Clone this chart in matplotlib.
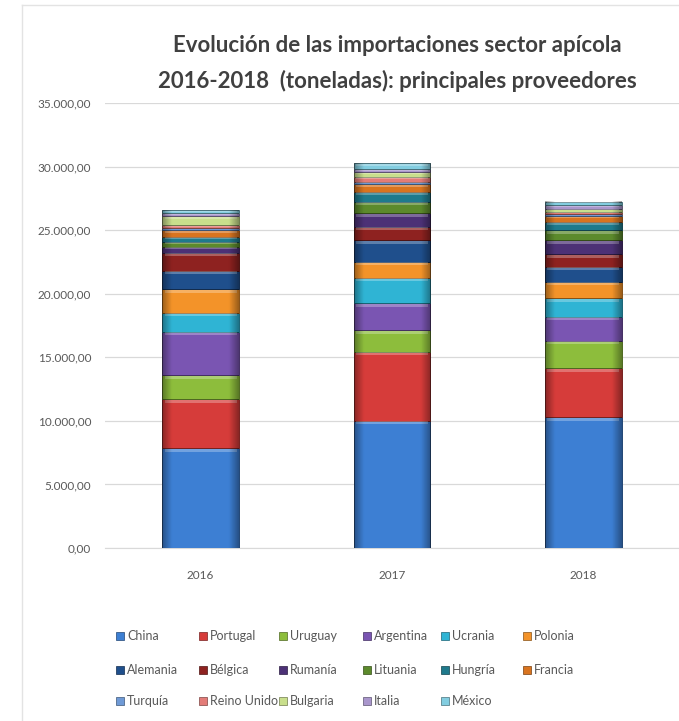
import numpy as np
import matplotlib
matplotlib.use("Agg")
import matplotlib.pyplot as plt
from matplotlib.colors import to_rgb
from matplotlib.patches import Rectangle
from matplotlib.lines import Line2D

plt.rcParams['font.family'] = ['Lato', 'DejaVu Sans']

years = ["2016", "2017", "2018"]
paises = ["China", "Portugal", "Uruguay", "Argentina", "Ucrania", "Polonia",
          "Alemania", "Bélgica", "Rumanía", "Lituania", "Hungría", "Francia",
          "Turquía", "Reino Unido", "Bulgaria", "Italia", "México"]

# toneladas por proveedor y año
china = [7840, 10030, 10280]
portugal = [3860, 5410, 3860]
uruguay = [1910, 1710, 2170]
argentina = [3410, 2100, 1890]
ucrania = [1490, 2020, 1450]
polonia = [1840, 1260, 1300]
alemania = [1470, 1700, 1180]
belgica = [1410, 1050, 1000]
rumania = [480, 1050, 1100]
lituania = [390, 920, 790]
hungria = [390, 780, 650]
francia = [530, 600, 450]
turquia = [150, 200, 150]
reino_unido = [240, 390, 190]
bulgaria = [710, 380, 250]
italia = [210, 200, 280]
mexico = [250, 480, 260]

series = [china, portugal, uruguay, argentina, ucrania, polonia, alemania, belgica,
          rumania, lituania, hungria, francia, turquia, reino_unido, bulgaria,
          italia, mexico]

colores = ['#3d7fd3', '#d63c3a', '#8dbd3c', '#7a55b2', '#2fb4d4', '#f39329',
           '#1f4f8c', '#8e2220', '#4c3176', '#5c8a2c', '#1f7a8c', '#d9741f',
           '#6f9ad6', '#e37c78', '#c9df8c', '#a996cc', '#82cde0']


def shade(c, f):
    r, g, b = to_rgb(c)
    return (r * f, g * f, b * f)


fig = plt.figure(figsize=(6.79, 7.21), dpi=100)
ax = fig.add_axes([105 / 679, 1 - 548 / 721, 1 - 105 / 679, (548 - 103.3) / 721])

x = np.arange(len(years))
w = 0.40
px = 35000 / 444.7
bottom = np.zeros(len(years))
for vals, c, name in zip(series, colores, paises):
    vals = np.array(vals, dtype=float)
    ax.bar(x, vals, w, bottom=bottom, color=c, edgecolor=shade(c, 0.55),
           linewidth=0.7, label=name, zorder=3)
    # brillo en la parte alta de cada tramo
    hl = np.minimum(vals * 0.3, 3 * px)
    ax.bar(x, hl, w * 0.94, bottom=bottom + vals - hl - 0.6 * px, color='white',
           alpha=0.28, linewidth=0, zorder=4)
    bottom += vals

# sombreado lateral de las columnas
prof = np.linspace(-1, 1, 60)
alpha = np.clip((np.abs(prof) - 0.75) / 0.25, 0, 1) * 0.35
grad = np.zeros((1, 60, 4))
grad[..., 3] = alpha
for xi, tot in zip(x, bottom):
    ax.imshow(grad, extent=[xi - w / 2, xi + w / 2, 0, tot], aspect='auto',
              zorder=5, interpolation='bilinear')

ax.set_xlim(-0.5, 2.5)
ax.set_ylim(0, 35000)
ax.set_yticks(np.arange(0, 35001, 5000))
ax.set_yticklabels([f"{v:,.2f}".replace(",", "X").replace(".", ",").replace("X", ".")
                    for v in np.arange(0, 35001, 5000)])
ax.set_xticks(x)
ax.set_xticklabels(years)
ax.grid(axis='y', color='#d9d9d9', linewidth=0.9, zorder=0)
for s in ['top', 'right', 'left']:
    ax.spines[s].set_visible(False)
ax.spines['bottom'].set_color('#d9d9d9')
ax.tick_params(length=0, colors='#595959', labelsize=8.5)
ax.tick_params(axis='y', pad=10)
ax.tick_params(axis='x', pad=16)

fig.text(397 / 679, 1 - 45 / 721, "Evolución de las importaciones sector apícola",
         ha='center', va='center', fontsize=16, fontweight='bold', color='#404040')
fig.text(397 / 679, 1 - 81 / 721, "2016-2018  (toneladas): principales proveedores",
         ha='center', va='center', fontsize=16, fontweight='bold', color='#404040')

# leyenda en tres filas
col_x = [120, 203, 283, 367, 445, 527]
row_y = [636, 670, 701]
for i, (name, c) in enumerate(zip(paises, colores)):
    cx = col_x[i % 6]
    cy = row_y[i // 6]
    fig.add_artist(Rectangle(((cx - 4) / 679, 1 - (cy + 4) / 721), 8 / 679, 8 / 721,
                             transform=fig.transFigure, facecolor=c,
                             edgecolor=shade(c, 0.55), linewidth=0.5))
    fig.text((cx + 7) / 679, 1 - cy / 721, name, ha='left', va='center',
             fontsize=9, color='#595959')

# marco
fig.add_artist(Line2D([22 / 679, 22 / 679], [0, 1 - 5 / 721], transform=fig.transFigure,
                      color='#e3e3e3', linewidth=1))
fig.add_artist(Line2D([22 / 679, 1], [1 - 5 / 721, 1 - 5 / 721], transform=fig.transFigure,
                      color='#e3e3e3', linewidth=1))

fig.savefig("out.png", dpi=100)
